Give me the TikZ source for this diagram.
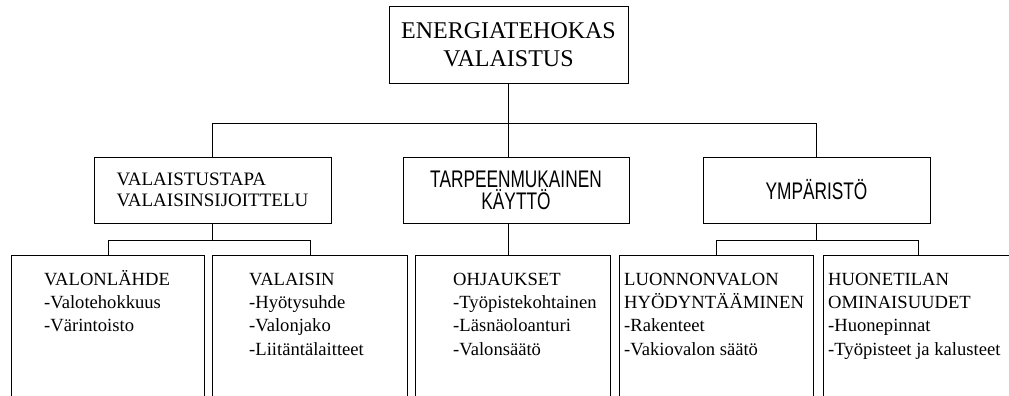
\documentclass[tikz,border=0pt]{standalone}
\usepackage{fontspec}
\setmainfont{Liberation Serif}
\newfontfamily\narrowsans[FakeStretch=0.72]{Liberation Sans}
\usepackage{tikz}
\usetikzlibrary{positioning}
\tikzset{
	box/.style={
		draw,
		shape = rectangle,
		line width = 1pt,
		inner sep = 0pt
	},
	leaf/.style={
		box,
		anchor = north west,
		minimum height = 170pt
	},
	item/.style={
		inner sep = 0pt,
		align = left,
		font = \fontsize{18.6}{23.3}\selectfont
	},
	sanshead/.style={
		font = \narrowsans\fontsize{24}{22}\selectfont
	},
	wire/.style={
		line width = 1pt
	},
}

\begin{document}
\begin{tikzpicture}[x=1pt, y=-1pt]
    \useasboundingbox (0,0) rectangle (1009,396);
    \clip (0,0) rectangle (1009,396);
    \node[box, minimum width=239pt, minimum height=76pt, align=center, font=\fontsize{24}{28}\selectfont] (root) at (508.5,45) {ENERGIATEHOKAS\\VALAISTUS};
    \node[box, minimum width=237pt, minimum height=66pt, align=left, font=\fontsize{19}{21}\selectfont] (b1) at (212.5,190) {VALAISTUSTAPA\\VALAISINSIJOITTELU};
    \node[box, sanshead, minimum width=226pt, minimum height=66pt, align=center] (b2) at (516,190) {TARPEENMUKAINEN\\KÄYTTÖ};
    \node[box, sanshead, minimum width=227pt, minimum height=66pt] (b3) at (816.5,190) {YMPÄRISTÖ};
    \node[leaf, minimum width=193pt] (c1) at (11,255) {};
    \node[leaf, minimum width=195pt] (c2) at (212,255) {};
    \node[leaf, minimum width=195pt] (c3) at (415,255) {};
    \node[leaf, minimum width=194pt] (c4) at (619,255) {};
    \node[leaf, minimum width=190pt] (c5) at (823,255) {};
    \node[item, below right=13.7pt and 33pt of c1.north west] (c1t) {\strut VALONLÄHDE\\-Valotehokkuus\\-Värintoisto};
    \node[item, below right=13.7pt and 37pt of c2.north west] (c2t) {\strut VALAISIN\\-Hyötysuhde\\-Valonjako\\-Liitäntälaitteet};
    \node[item, below right=13.7pt and 38pt of c3.north west] (c3t) {\strut OHJAUKSET\\-Työpistekohtainen\\-Läsnäoloanturi\\-Valonsäätö};
    \node[item, below right=13.7pt and 5pt of c4.north west] (c4t) {\strut LUONNONVALON\\HYÖDYNTÄÄMINEN\\-Rakenteet\\-Vakiovalon säätö};
    \node[item, below right=13.7pt and 5pt of c5.north west] (c5t) {\strut HUONETILAN\\OMINAISUUDET\\-Huonepinnat\\-Työpisteet ja kalusteet};
    \coordinate (bus) at (0,123);
    \coordinate (bustwo) at (0,240);
    \draw[wire] (root.south) -- (root.south |- b2.north);
    \draw[wire] (b1.north) |- (b3.north |- bus) -- (b3.north);
    \draw[wire] (b1.south) -- (b1.south |- bustwo);
    \draw[wire] (c1.north) |- (c2.north |- bustwo) -- (c2.north);
    \draw[wire] (root.south |- b2.south) -- (root.south |- c3.north);
    \draw[wire] (b3.south) -- (b3.south |- bustwo);
    \draw[wire] (c4.north) |- (c5.north |- bustwo) -- (c5.north);
  \end{tikzpicture}
\end{document}
